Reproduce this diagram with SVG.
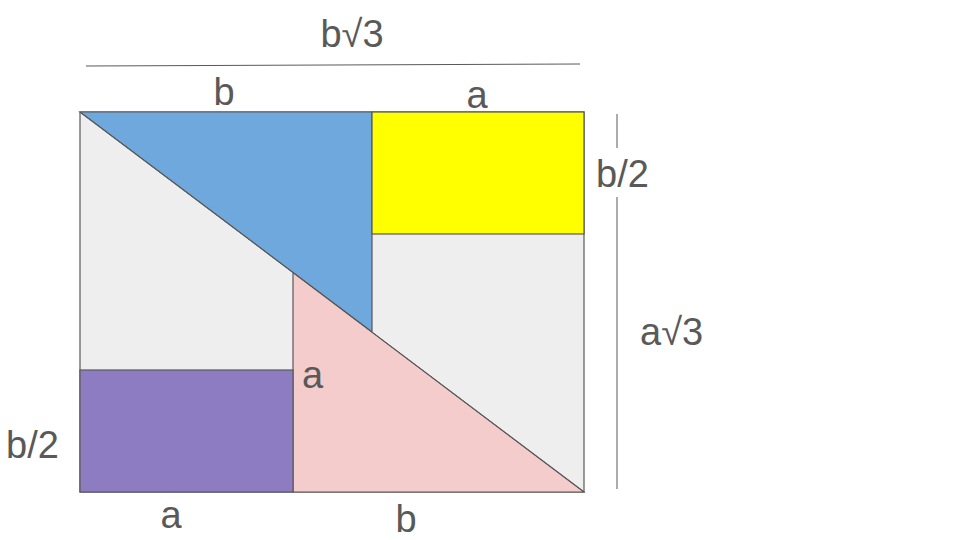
<svg xmlns="http://www.w3.org/2000/svg" width="960" height="540" viewBox="0 0 960 540">
<style>
.s{stroke:#595959;stroke-width:1.2;stroke-linejoin:miter}
.t{font-family:"Liberation Sans",Arial,sans-serif;font-size:38px;fill:#595959}
.l{stroke:#595959;stroke-width:1;fill:none}
</style>
<rect width="960" height="540" fill="#ffffff"/>
<g id="frame"><rect x="80" y="112" width="504" height="380" fill="#eeeeee" class="s"/></g>
<g id="blue"><polygon points="80,112 372,112 372,332" fill="#6fa8dc" class="s"/></g>
<g id="yellow"><rect x="372" y="112" width="212" height="122" fill="#ffff00" class="s"/></g>
<g id="pink"><polygon points="293,272.6 293,492 584,492" fill="#f4cccc" class="s"/></g>
<g id="purple"><rect x="80" y="370" width="213" height="122" fill="#8e7cc3" class="s"/></g>
<g id="connectors">
<line x1="80" y1="112" x2="584" y2="492" class="l"/>
<line x1="86" y1="66" x2="580" y2="64" class="l"/>
<line x1="617" y1="114" x2="617" y2="148" class="l"/>
<line x1="617" y1="197" x2="617" y2="489" class="l"/>
</g>
<g id="labels">
<text class="t" x="352" y="47" text-anchor="middle">b√3</text>
<text class="t" x="224" y="105" text-anchor="middle">b</text>
<text class="t" x="477" y="108" text-anchor="middle">a</text>
<text class="t" x="596" y="187">b/2</text>
<text class="t" x="640" y="345">a√3</text>
<text class="t" x="302" y="388">a</text>
<text class="t" x="6" y="458">b/2</text>
<text class="t" x="171" y="528" text-anchor="middle">a</text>
<text class="t" x="406" y="532" text-anchor="middle">b</text>
</g>
</svg>
